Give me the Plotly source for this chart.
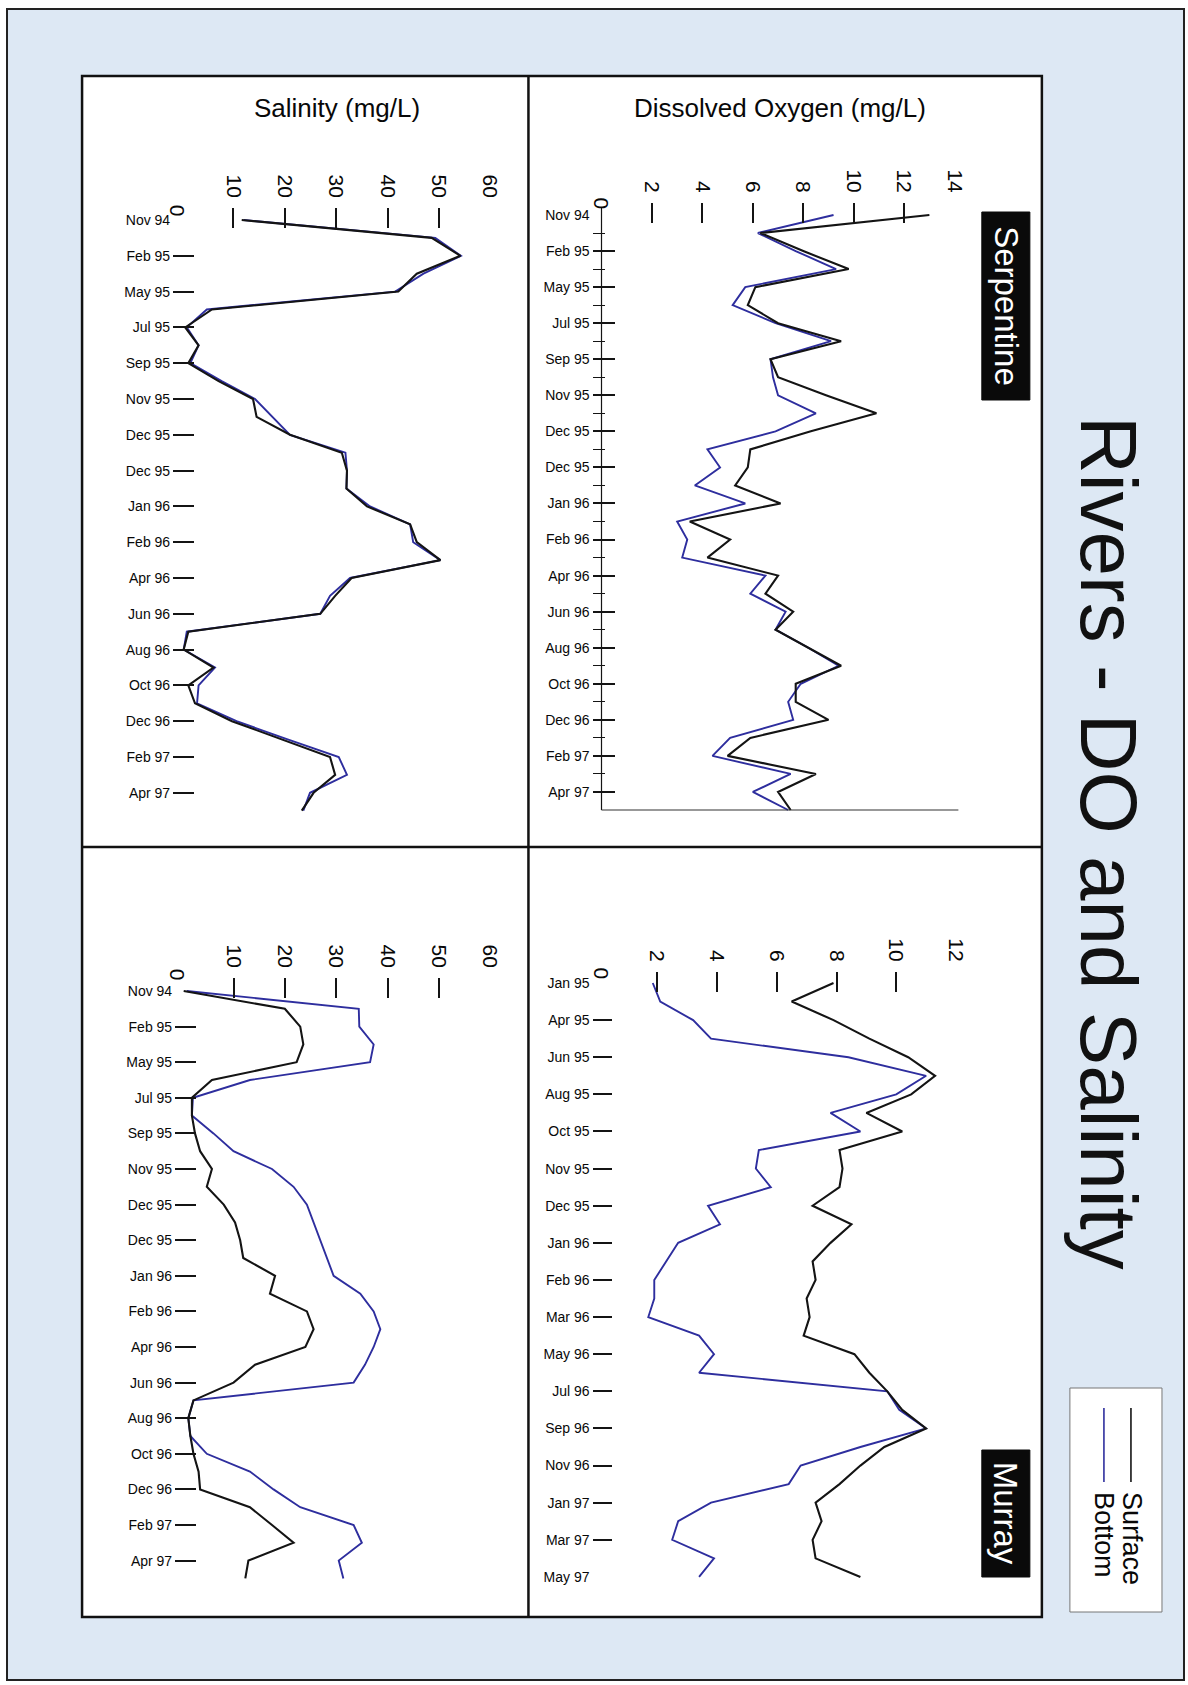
import plotly.graph_objects as go

W, H = 1188, 1685          # reference geometry (all positions below are in these pixels)
FIG_W = 1196               # rendered page is 1196 css px wide and photographed at 1188

# ---------------- data ----------------
ser_dates = ["Nov 94", "Feb 95", "May 95", "Jul 95", "Sep 95", "Nov 95", "Dec 95", "Dec 95",
             "Jan 96", "Feb 96", "Apr 96", "Jun 96", "Aug 96", "Oct 96", "Dec 96", "Feb 97", "Apr 97"]
mur_do_dates = ["Jan 95", "Apr 95", "Jun 95", "Aug 95", "Oct 95", "Nov 95", "Dec 95", "Jan 96",
                "Feb 96", "Mar 96", "May 96", "Jul 96", "Sep 96", "Nov 96", "Jan 97", "Mar 97", "May 97"]

sal_ticks = [10, 20, 30, 40, 50, 60]
sal_marks = [10, 20, 30, 40, 50]
ser_do_ticks = [2, 4, 6, 8, 10, 12, 14]
ser_do_marks = [2, 4, 6, 8, 10, 12]
mur_do_ticks = [2, 4, 6, 8, 10, 12]
mur_do_marks = [2, 4, 6, 8, 10]

# Serpentine salinity (surface / bottom)
ser_sal_surface = [11.6, 48.6, 54.2, 45.7, 42.1, 5.8, 0.6, 3.2, 1.2, 7.1, 13.8, 14.5, 21.0, 31.1,
                   32.1, 32.0, 36.0, 44.4, 45.7, 50.3, 33.0, 29.8, 26.9, 1.2, 0.3, 6.1, 1.2, 2.5,
                   9.7, 19.1, 28.8, 29.8, 25.6, 23.3]
ser_sal_bottom = [12.0, 49.3, 54.3, 47.0, 41.5, 4.8, 0.9, 3.2, 1.6, 7.7, 14.2, 17.5, 21.0, 31.8,
                  32.1, 32.0, 36.6, 44.4, 45.0, 50.3, 32.7, 28.8, 26.9, 0.9, 0.3, 6.4, 3.2, 2.9,
                  10.6, 20.4, 30.5, 32.1, 24.9, 23.6]

# Serpentine dissolved oxygen
ser_do_surface = [13.0, 6.3, 8.0, 9.8, 6.1, 5.8, 7.0, 9.5, 6.7, 7.0, 8.9, 10.9, 8.3, 5.9, 5.8,
                  5.3, 7.1, 3.5, 5.1, 4.2, 7.0, 6.5, 7.6, 6.9, 8.2, 9.5, 7.7, 7.7, 9.0, 5.9, 5.0,
                  8.5, 7.0, 7.5]
ser_do_bottom = [9.2, 6.2, 7.7, 9.3, 5.7, 5.2, 6.9, 9.1, 6.7, 6.8, 7.0, 8.5, 6.9, 4.2, 4.7, 3.7,
                 5.7, 3.0, 3.4, 3.2, 6.5, 5.9, 7.3, 6.9, 8.2, 9.4, 7.9, 7.4, 7.6, 5.1, 4.4, 7.5,
                 6.0, 7.4]

# Murray salinity
mur_sal_surface = [0.3, 20.0, 23.0, 23.6, 22.3, 5.8, 1.9, 1.9, 2.5, 3.5, 5.8, 4.8, 8.1, 10.3,
                   11.3, 11.9, 18.1, 17.1, 24.3, 25.6, 24.0, 14.2, 10.0, 2.2, 1.2, 1.6, 2.2, 3.2,
                   3.5, 13.2, 17.5, 21.7, 12.9, 12.3]
mur_sal_bottom = [0.9, 34.4, 34.5, 37.3, 36.6, 13.2, 2.1, 1.9, 6.1, 10.0, 17.5, 21.7, 24.3, 25.6,
                  26.9, 28.2, 29.5, 34.7, 37.3, 38.6, 37.3, 35.6, 33.4, 2.2, 1.2, 1.6, 4.8, 13.2,
                  17.8, 23.0, 33.4, 35.0, 30.5, 31.4]

# Murray dissolved oxygen
mur_do_surface = [7.9, 6.5, 7.9, 9.1, 10.4, 11.3, 10.5, 9.0, 10.2, 8.1, 8.2, 8.1, 7.2, 8.5, 7.8,
                  7.2, 7.3, 7.0, 7.1, 6.9, 8.6, 9.1, 9.7, 10.2, 11.0, 9.6, 8.8, 8.1, 7.3, 7.5,
                  7.2, 7.3, 8.8]
mur_do_bottom = [1.85, 2.1, 3.2, 3.8, 8.4, 11.0, 10.0, 7.8, 8.8, 5.4, 5.3, 5.8, 3.7, 4.1, 2.7,
                 2.3, 1.9, 1.9, 1.7, 3.4, 3.9, 3.4, 9.7, 10.1, 11.0, 8.8, 6.8, 6.4, 3.8, 2.7, 2.5,
                 3.9, 3.4]

# ---------------- styling ----------------
BLACK = "#141414"
BLUE = "#2e2e9e"
FONT = "Liberation Sans, Arial, Helvetica, sans-serif"
PAGE = "#dde8f4"
TXT = "#080808"


def px(x):
    return x / W


def py(y):
    return 1 - y / H


panels = [
    dict(surf=ser_sal_surface, bot=ser_sal_bottom, dates=ser_dates, vt=sal_ticks, vm=sal_marks,
         x0=182, ppu=5.13, xlo=-1.75, xhi=61.0, row0=220, ppr=17.9, ytop=-0.67, ybot=33.5,
         tlen_y=21, tlen_x=20, dmarks=list(range(2, 33, 2)), zero=(178, 211), minor=False),
    dict(surf=ser_do_surface, bot=ser_do_bottom, dates=ser_dates, vt=ser_do_ticks, vm=ser_do_marks,
         x0=601, ppu=25.2, xlo=-0.357, xhi=14.4, row0=215, ppr=18.03, ytop=-0.67, ybot=33.3,
         tlen_y=22, tlen_x=20, dmarks=list(range(2, 33, 2)), zero=(601, 203), minor=True),
    dict(surf=mur_sal_surface, bot=mur_sal_bottom, dates=ser_dates, vt=sal_ticks, vm=sal_marks,
         x0=182, ppu=5.13, xlo=-1.36, xhi=61.0, row0=991, ppr=17.8, ytop=-0.73, ybot=33.5,
         tlen_y=21, tlen_x=20, dmarks=list(range(2, 33, 2)), zero=(178, 975), minor=False),
    dict(surf=mur_do_surface, bot=mur_do_bottom, dates=mur_do_dates, vt=mur_do_ticks, vm=mur_do_marks,
         x0=597, ppu=29.85, xlo=-0.167, xhi=12.6, row0=983, ppr=18.56, ytop=-0.6, ybot=32.5,
         tlen_y=19, tlen_x=20, dmarks=list(range(2, 31, 2)), zero=(601, 973), minor=False),
]

fig = go.Figure()
layout = {}
annotations = []
shapes = []

for i, p in enumerate(panels, start=1):
    n = len(p["surf"])
    rows = list(range(n))
    xa, ya = f"x{i}", f"y{i}"
    xo, yo = f"x{i + 4}", f"y{i + 4}"
    fig.add_trace(go.Scatter(x=p["bot"], y=rows, xaxis=xa, yaxis=ya, mode="lines",
                             line=dict(color=BLUE, width=1.9), showlegend=False, hoverinfo="skip"))
    fig.add_trace(go.Scatter(x=p["surf"], y=rows, xaxis=xa, yaxis=ya, mode="lines",
                             line=dict(color=BLACK, width=2.1), showlegend=False, hoverinfo="skip"))
    # empty traces so the tick-mark overlay axes get drawn
    fig.add_trace(go.Scatter(x=[], y=[], xaxis=xo, yaxis=ya, mode="lines", showlegend=False,
                             hoverinfo="skip"))
    fig.add_trace(go.Scatter(x=[], y=[], xaxis=xa, yaxis=yo, mode="lines", showlegend=False,
                             hoverinfo="skip"))

    xd = [px(p["x0"] + p["xlo"] * p["ppu"]), px(p["x0"] + p["xhi"] * p["ppu"])]
    yd = [py(p["row0"] + p["ybot"] * p["ppr"]), py(p["row0"] + p["ytop"] * p["ppr"])]
    xr = [p["xlo"], p["xhi"]]
    yr = [p["ybot"], p["ytop"]]
    date_vals = list(range(0, 2 * len(p["dates"]), 2))

    # value axis (labels only)
    layout[f"xaxis{i}"] = dict(domain=xd, range=xr, anchor=ya, side="top", showgrid=False,
                               zeroline=False, showline=False, ticks="", tickmode="array",
                               tickvals=p["vt"], ticktext=[str(v) for v in p["vt"]], tickangle=90,
                               tickfont=dict(size=21, color=TXT, family=FONT),
                               ticklabelstandoff=6, fixedrange=True)
    # value axis tick marks
    layout[f"xaxis{i + 4}"] = dict(overlaying=xa, range=xr, anchor=ya, side="top", showgrid=False,
                                   zeroline=False, showline=False, ticks="inside", ticklen=p["tlen_x"],
                                   tickwidth=2, tickcolor=BLACK, tickmode="array", tickvals=p["vm"],
                                   showticklabels=False, fixedrange=True)
    # date axis (labels)
    layout[f"yaxis{i}"] = dict(domain=yd, range=yr, anchor=xa, side="left", showgrid=False,
                               zeroline=False, showline=False, ticks="", tickmode="array",
                               tickvals=date_vals, ticktext=p["dates"],
                               tickfont=dict(size=14, color=TXT, family=FONT),
                               ticklabelstandoff=2, fixedrange=True)
    yov = dict(overlaying=ya, range=yr, anchor=xa, side="left", showgrid=False, zeroline=False,
               showline=False, ticks="inside", ticklen=p["tlen_y"], tickwidth=2, tickcolor=BLACK,
               tickmode="array", tickvals=p["dmarks"], showticklabels=False, fixedrange=True)
    if p["minor"]:
        yov["minor"] = dict(tickmode="array", tickvals=list(range(1, 33, 2)), ticks="inside",
                            ticklen=12, tickwidth=1, tickcolor=BLACK)
    layout[f"yaxis{i + 4}"] = yov

    zx, zy = p["zero"]
    annotations.append(dict(x=px(zx), y=py(zy), xref="paper", yref="paper", text="0",
                            showarrow=False, textangle=90, xanchor="center", yanchor="middle",
                            font=dict(size=21, color=TXT, family=FONT)))

# axis lines of the Serpentine DO panel
shapes.append(dict(type="line", xref="x2", yref="y2", x0=0, x1=0, y0=-0.45, y1=33,
                   line=dict(color=BLACK, width=1.2)))
shapes.append(dict(type="line", xref="x2", yref="y2", x0=0, x1=14.15, y0=33, y1=33,
                   line=dict(color="#333333", width=1.2)))

# page background and frames
shapes.insert(0, dict(type="rect", xref="paper", yref="paper", x0=px(7), x1=px(1183), y0=py(1680),
                      y1=py(9), fillcolor=PAGE, line=dict(color="#222222", width=2), layer="below"))
shapes.insert(1, dict(type="rect", xref="paper", yref="paper", x0=px(82), x1=px(1041), y0=py(1617),
                      y1=py(76), fillcolor="white", line=dict(color="#111111", width=2.5), layer="below"))
shapes.append(dict(type="line", xref="paper", yref="paper", x0=px(528), x1=px(528), y0=py(1617),
                   y1=py(76), line=dict(color="#111111", width=2.5)))
shapes.append(dict(type="line", xref="paper", yref="paper", x0=px(82), x1=px(1041), y0=py(847),
                   y1=py(847), line=dict(color="#111111", width=2.5)))

# river name boxes
for (x0, x1, y0, y1, name) in [(981, 1029, 212, 400, "Serpentine"), (981, 1029, 1450, 1577, "Murray")]:
    shapes.append(dict(type="rect", xref="paper", yref="paper", x0=px(x0), x1=px(x1), y0=py(y1),
                       y1=py(y0), fillcolor="#0a0a0a", line=dict(color="#0a0a0a", width=1)))
    annotations.append(dict(x=px((x0 + x1) / 2), y=py((y0 + y1) / 2), xref="paper", yref="paper",
                            text=name, showarrow=False, textangle=90, xanchor="center",
                            yanchor="middle", font=dict(size=33, color="white", family=FONT)))

# legend
shapes.append(dict(type="rect", xref="paper", yref="paper", x0=px(1069), x1=px(1161), y0=py(1612),
                   y1=py(1388), fillcolor="white", line=dict(color="#777777", width=1)))
shapes.append(dict(type="line", xref="paper", yref="paper", x0=px(1130), x1=px(1130), y0=py(1482),
                   y1=py(1408), line=dict(color=BLACK, width=1.6)))
shapes.append(dict(type="line", xref="paper", yref="paper", x0=px(1103), x1=px(1103), y0=py(1482),
                   y1=py(1408), line=dict(color=BLUE, width=1.6)))
annotations.append(dict(x=px(1131), y=py(1539), xref="paper", yref="paper", text="Surface",
                        showarrow=False, textangle=90, xanchor="center", yanchor="middle",
                        font=dict(size=27, color=TXT, family=FONT)))
annotations.append(dict(x=px(1103), y=py(1535), xref="paper", yref="paper", text="Bottom",
                        showarrow=False, textangle=90, xanchor="center", yanchor="middle",
                        font=dict(size=27, color=TXT, family=FONT)))

# panel titles
annotations.append(dict(x=px(337), y=py(108), xref="paper", yref="paper", text="Salinity (mg/L)",
                        showarrow=False, xanchor="center", yanchor="middle",
                        font=dict(size=26, color=TXT, family=FONT)))
annotations.append(dict(x=px(779), y=py(108), xref="paper", yref="paper",
                        text="Dissolved Oxygen (mg/L)", showarrow=False, xanchor="center",
                        yanchor="middle", font=dict(size=26, color=TXT, family=FONT)))

# main title
annotations.append(dict(x=px(1108), y=py(843), xref="paper", yref="paper",
                        text="Rivers - DO and Salinity", showarrow=False, textangle=90,
                        xanchor="center", yanchor="middle",
                        font=dict(size=80, color="#111111", family=FONT)))

fig.update_layout(width=FIG_W, height=H, autosize=False, margin=dict(l=0, r=0, t=0, b=0),
                  paper_bgcolor="white", plot_bgcolor="rgba(0,0,0,0)", showlegend=False,
                  shapes=shapes, annotations=annotations, **layout)

fig.write_html(
    "out.html",
    config={"responsive": False, "displayModeBar": False, "staticPlot": True},
    post_script=("document.documentElement.style.margin='0';"
                 "document.documentElement.style.overflow='hidden';"
                 "document.body.style.margin='0';document.body.style.overflow='hidden';"),
)
